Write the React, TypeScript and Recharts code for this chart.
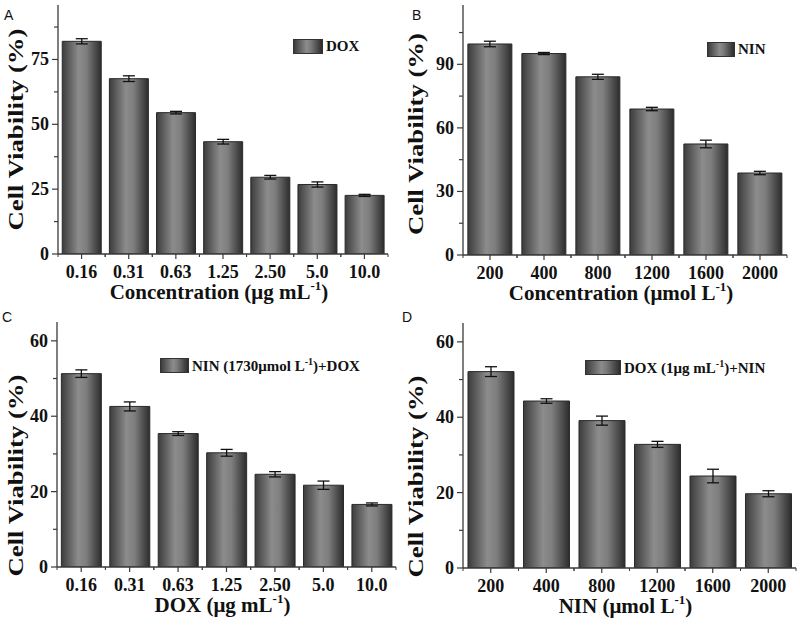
import { BarChart, Bar, XAxis, YAxis, ErrorBar, Legend, Label } from 'recharts'

const doseDox = ['0.16', '0.31', '0.63', '1.25', '2.50', '5.0', '10.0']
const doseNin = ['200', '400', '800', '1200', '1600', '2000']

const doxViability = [82.0, 67.6, 54.5, 43.3, 29.6, 26.8, 22.6]
const doxError = [1.0, 1.1, 0.5, 0.9, 0.7, 1.0, 0.4]

const ninViability = [99.6, 95.1, 84.1, 68.9, 52.4, 38.7]
const ninError = [1.3, 0.5, 1.2, 0.8, 1.8, 0.8]

const comboDoxViability = [51.3, 42.6, 35.4, 30.3, 24.6, 21.7, 16.6]
const comboDoxError = [1.0, 1.2, 0.5, 0.9, 0.7, 1.1, 0.4]

const comboNinViability = [52.1, 44.3, 39.1, 32.8, 24.4, 19.7]
const comboNinError = [1.3, 0.6, 1.2, 0.8, 1.8, 0.8]

const ticksA = [0, 12.5, 25, 37.5, 50, 62.5, 75, 87.5]
const ticksB = [0, 15, 30, 45, 60, 75, 90, 105]
const ticksCD = [0, 10, 20, 30, 40, 50, 60]

const SERIF = '"Liberation Serif", "Times New Roman", serif'
const AXIS = '#3a3a3a'

const toRows = (cats: string[], vals: number[], errs: number[]) =>
  cats.map((c, i) => ({ dose: c, v: vals[i], e: errs[i] }))

function YTick(props: any) {
  const { x, y, payload, step } = props
  const major = payload.value % step === 0
  return (
    <g>
      <line x1={x} x2={x - (major ? 6 : 4)} y1={y} y2={y} stroke={AXIS} strokeWidth={1.2} />
      {major && (
        <text
          x={x - 9}
          y={y}
          textAnchor="end"
          dominantBaseline="central"
          fontFamily={SERIF}
          fontWeight="bold"
          fontSize={18}
          fill="#111"
        >
          {payload.value}
        </text>
      )}
    </g>
  )
}

function XTick(props: any) {
  const { x, y, payload, band } = props
  return (
    <g>
      <line x1={x} x2={x} y1={y} y2={y + 5} stroke={AXIS} strokeWidth={1.2} />
      <line x1={x - band / 2} x2={x - band / 2} y1={y} y2={y + 3} stroke={AXIS} strokeWidth={1} />
      <line x1={x + band / 2} x2={x + band / 2} y1={y} y2={y + 3} stroke={AXIS} strokeWidth={1} />
      <text
        x={x}
        y={y + 24}
        textAnchor="middle"
        fontFamily={SERIF}
        fontWeight="bold"
        fontSize={18}
        fill="#111"
      >
        {payload.value}
      </text>
    </g>
  )
}

interface PanelProps {
  id: string
  letter: string
  left: number
  top: number
  height: number
  margin: { top: number; right: number }
  yWidth: number
  xHeight: number
  cats: string[]
  vals: number[]
  errs: number[]
  yMax: number
  ticks: number[]
  step: number
  xLabel: [string, string]
  yLabelShift: number
  legend: { name: [string, string, string]; x: number; y: number; swatch: number }
}

function Panel(p: PanelProps) {
  const width = 400
  const data = toRows(p.cats, p.vals, p.errs)
  const plotW = width - p.margin.right - p.yWidth
  const band = plotW / p.cats.length
  const plotH = p.height - p.margin.top - p.xHeight

  return (
    <div style={{ position: 'absolute', left: p.left, top: p.top, width, height: p.height }}>
      <BarChart
        width={width}
        height={p.height}
        data={data}
        margin={{ top: p.margin.top, right: p.margin.right, left: 0, bottom: 0 }}
        barCategoryGap="9%"
      >
        <defs>
          <linearGradient id={`grad-${p.id}`} x1="0" y1="0" x2="1" y2="0">
            <stop offset="0%" stopColor="#3c3c3c" />
            <stop offset="18%" stopColor="#5e5e5e" />
            <stop offset="42%" stopColor="#8c8c8c" />
            <stop offset="62%" stopColor="#7e7e7e" />
            <stop offset="86%" stopColor="#4a4a4a" />
            <stop offset="100%" stopColor="#2c2c2c" />
          </linearGradient>
        </defs>
        <XAxis
          dataKey="dose"
          height={p.xHeight}
          interval={0}
          tickSize={0}
          tickMargin={0}
          tickLine={false}
          axisLine={{ stroke: AXIS, strokeWidth: 1.3 }}
          tick={(t: any) => <XTick {...t} band={band} />}
        >
          <Label
            content={(lp: any) => {
              const vb = lp.viewBox
              return (
                <text
                  x={vb.x + vb.width / 2 - 4}
                  y={vb.y + 45}
                  textAnchor="middle"
                  fontFamily={SERIF}
                  fontWeight="bold"
                  fontSize={21}
                  fill="#111"
                >
                  {p.xLabel[0]}
                  <tspan fontSize={13} dy={-9}>-1</tspan>
                  <tspan dy={9}>{p.xLabel[1]}</tspan>
                </text>
              )
            }}
          />
        </XAxis>
        <XAxis xAxisId="top" orientation="top" height={0} tick={false} tickLine={false} axisLine={{ stroke: AXIS, strokeWidth: 1.3 }} />
        <YAxis
          width={p.yWidth}
          domain={[0, p.yMax]}
          ticks={p.ticks}
          interval={0}
          allowDataOverflow
          tickSize={0}
          tickMargin={0}
          tickLine={false}
          axisLine={{ stroke: AXIS, strokeWidth: 1.3 }}
          tick={(t: any) => <YTick {...t} step={p.step} />}
        >
          <Label
            content={() => {
              const cy = p.margin.top + plotH / 2 + p.yLabelShift
              return (
                <text
                  x={15}
                  y={cy}
                  transform={`rotate(-90 15 ${cy})`}
                  textAnchor="middle"
                  dominantBaseline="central"
                  fontFamily={SERIF}
                  fontWeight="bold"
                  fontSize={22}
                  textLength={202}
                  lengthAdjust="spacingAndGlyphs"
                  fill="#111"
                >
                  Cell Viability (%)
                </text>
              )
            }}
          />
        </YAxis>
        <YAxis yAxisId="right" orientation="right" width={0} tick={false} tickLine={false} axisLine={{ stroke: AXIS, strokeWidth: 1.3 }} />
        <Legend
          layout="vertical"
          align="center"
          verticalAlign="middle"
          wrapperStyle={{ left: p.legend.x, top: p.legend.y, width: 'auto' }}
          content={() => (
            <div style={{ display: 'flex', alignItems: 'center', height: 18, whiteSpace: 'nowrap' }}>
              <div
                style={{
                  width: p.legend.swatch,
                  height: 13,
                  border: '1px solid #333',
                  background: 'linear-gradient(to right, #3c3c3c, #8c8c8c 45%, #7a7a7a 60%, #2c2c2c)',
                }}
              />
              <span
                style={{ marginLeft: 3, fontFamily: SERIF, fontWeight: 'bold', fontSize: 15, color: '#111' }}
              >
                {p.legend.name[0]}
                {p.legend.name[1] && <sup style={{ fontSize: 10 }}>{p.legend.name[1]}</sup>}
                {p.legend.name[2]}
              </span>
            </div>
          )}
        />
        <Bar
          dataKey="v"
          name={p.legend.name.join('')}
          fill={`url(#grad-${p.id})`}
          stroke="#2a2a2a"
          strokeWidth={1}
          isAnimationActive={false}
        >
          <ErrorBar dataKey="e" width={6} stroke="#111" strokeWidth={1.3} direction="y" />
        </Bar>
      </BarChart>
      <div
        style={{
          position: 'absolute',
          left: p.letter === 'A' ? 4 : p.letter === 'B' ? 12 : 2,
          top: p.letter === 'A' || p.letter === 'B' ? 8 : 0,
          fontFamily: '"Liberation Sans", Arial, sans-serif',
          fontSize: 14,
          lineHeight: '14px',
          color: '#111',
        }}
      >
        {p.letter}
      </div>
    </div>
  )
}

export default function App() {
  return (
    <div style={{ position: 'absolute', left: 0, top: 0, width: 800, height: 625, background: '#fff' }}>
      <Panel
        id="a"
        letter="A"
        left={0}
        top={0}
        height={310}
        margin={{ top: 5, right: 12 }}
        yWidth={58}
        xHeight={56}
        cats={doseDox}
        vals={doxViability}
        errs={doxError}
        yMax={96}
        ticks={ticksA}
        step={25}
        xLabel={['Concentration (μg mL', ')']}
        yLabelShift={0}
        legend={{ name: ['DOX', '', ''], x: 293, y: 37, swatch: 28 }}
      />
      <Panel
        id="b"
        letter="B"
        left={400}
        top={0}
        height={310}
        margin={{ top: 5, right: 13 }}
        yWidth={63}
        xHeight={55}
        cats={doseNin}
        vals={ninViability}
        errs={ninError}
        yMax={118}
        ticks={ticksB}
        step={30}
        xLabel={['Concentration (μmol L', ')']}
        yLabelShift={4}
        legend={{ name: ['NIN', '', ''], x: 307, y: 40, swatch: 26 }}
      />
      <Panel
        id="c"
        letter="C"
        left={0}
        top={310}
        height={315}
        margin={{ top: 12, right: 4 }}
        yWidth={57}
        xHeight={58}
        cats={doseDox}
        vals={comboDoxViability}
        errs={comboDoxError}
        yMax={65}
        ticks={ticksCD}
        step={20}
        xLabel={['DOX (μg mL', ')']}
        yLabelShift={31}
        legend={{ name: ['NIN (1730μmol L', '-1', ')+DOX'], x: 160, y: 46, swatch: 27 }}
      />
      <Panel
        id="d"
        letter="D"
        left={400}
        top={310}
        height={315}
        margin={{ top: 13, right: 4 }}
        yWidth={63}
        xHeight={57}
        cats={doseNin}
        vals={comboNinViability}
        errs={comboNinError}
        yMax={65}
        ticks={ticksCD}
        step={20}
        xLabel={['NIN (μmol L', ')']}
        yLabelShift={31}
        legend={{ name: ['DOX (1μg mL', '-1', ')+NIN'], x: 185, y: 48, swatch: 34 }}
      />
    </div>
  )
}
